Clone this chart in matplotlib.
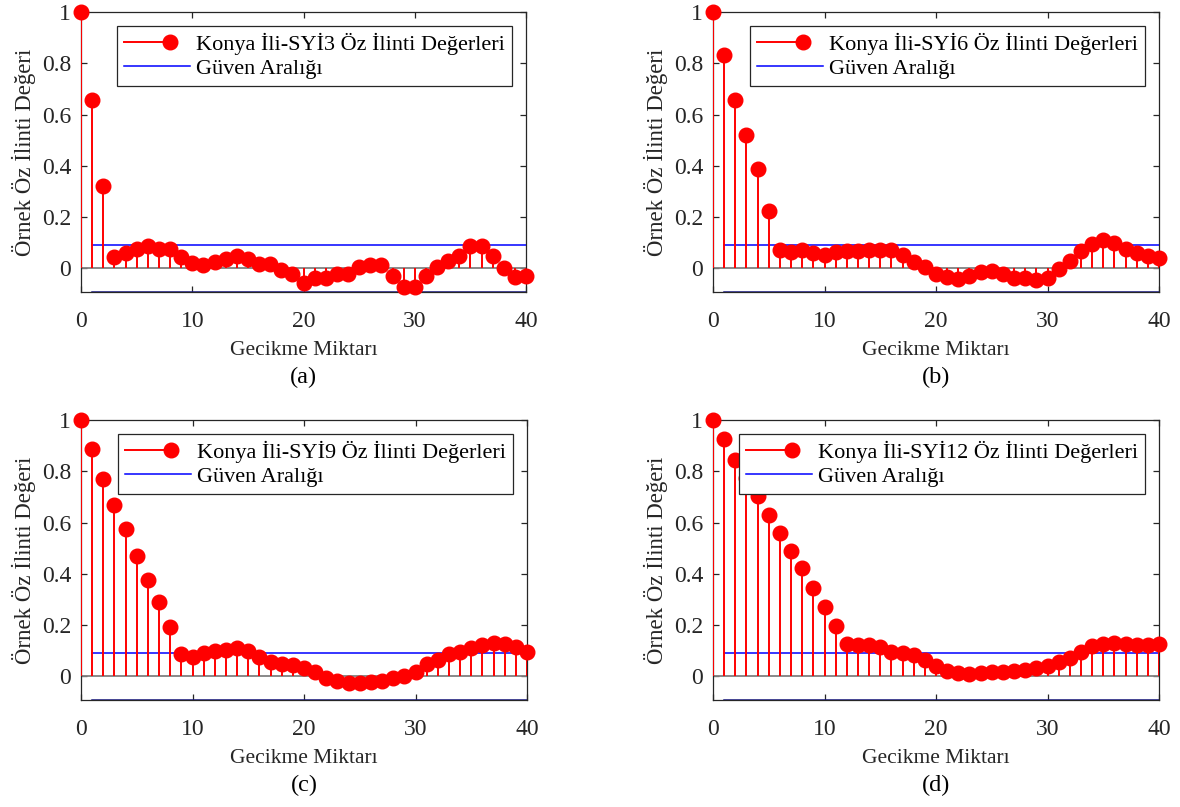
import numpy as np
import matplotlib
matplotlib.use("Agg")
import matplotlib.pyplot as plt
from matplotlib.lines import Line2D
from matplotlib.legend_handler import HandlerBase
from matplotlib.ticker import FuncFormatter

plt.rcParams['font.family'] = ['Liberation Serif', 'DejaVu Serif']

# Autocorrelation values, lags 0..40
lags = list(range(41))

acf_syi3 = [1.000, 0.656, 0.323, 0.044, 0.060, 0.077, 0.086, 0.077, 0.077, 0.044,
            0.023, 0.014, 0.025, 0.036, 0.047, 0.038, 0.017, 0.017, -0.008, -0.022,
            -0.057, -0.038, -0.038, -0.022, -0.022, 0.005, 0.014, 0.014, -0.031, -0.074,
            -0.074, -0.029, 0.004, 0.030, 0.048, 0.088, 0.088, 0.050, 0.001, -0.034,
            -0.031]

acf_syi6 = [1.000, 0.834, 0.658, 0.520, 0.387, 0.224, 0.070, 0.064, 0.070, 0.060,
            0.052, 0.064, 0.069, 0.066, 0.071, 0.073, 0.070, 0.053, 0.026, 0.005,
            -0.021, -0.034, -0.042, -0.029, -0.014, -0.012, -0.021, -0.038, -0.038, -0.047,
            -0.038, -0.003, 0.030, 0.069, 0.096, 0.109, 0.101, 0.075, 0.060, 0.047,
            0.040]

acf_syi9 = [1.000, 0.888, 0.768, 0.669, 0.575, 0.468, 0.377, 0.291, 0.192, 0.087,
            0.075, 0.091, 0.101, 0.104, 0.110, 0.100, 0.075, 0.058, 0.049, 0.045,
            0.032, 0.017, -0.006, -0.019, -0.026, -0.026, -0.022, -0.017, -0.006, 0.000,
            0.019, 0.048, 0.065, 0.087, 0.097, 0.110, 0.123, 0.129, 0.126, 0.113,
            0.097]

acf_syi12 = [1.000, 0.925, 0.844, 0.775, 0.704, 0.630, 0.561, 0.490, 0.422, 0.344,
             0.270, 0.197, 0.126, 0.123, 0.123, 0.113, 0.097, 0.091, 0.082, 0.065,
             0.042, 0.023, 0.013, 0.009, 0.013, 0.016, 0.019, 0.023, 0.026, 0.032,
             0.039, 0.055, 0.071, 0.097, 0.117, 0.126, 0.130, 0.126, 0.123, 0.123,
             0.126]

series_values = [acf_syi3, acf_syi6, acf_syi9, acf_syi12]
series_names = ["SYİ3", "SYİ6", "SYİ9", "SYİ12"]
panel_tags = ["(a)", "(b)", "(c)", "(d)"]

conf_bound = 0.092
x_ticks = [0, 10, 20, 30, 40]
y_ticks = [0, 0.2, 0.4, 0.6, 0.8, 1]

x_label = "Gecikme Miktarı"
y_label = "Örnek Öz İlinti Değeri"
acf_label = "Konya İli-{} Öz İlinti Değerleri"
conf_label = "Güven Aralığı"

STEM_COLOR = "#ff0000"
CONF_COLOR = "#0000ff"
AXIS_COLOR = "#262626"
MARKER_SIZE = 10.5
STEM_LW = 1.4


class StemKeyHandler(HandlerBase):
    """Legend key with the marker sitting near the right end of the stem."""

    def create_artists(self, legend, orig_handle, xdescent, ydescent,
                       width, height, fontsize, trans):
        y = (height - ydescent) / 2
        xm = -xdescent + 0.70 * width
        stem = Line2D([-xdescent, xm], [y, y], color=STEM_COLOR, lw=STEM_LW)
        head = Line2D([xm], [y], marker='o', markersize=MARKER_SIZE,
                      color=STEM_COLOR, linestyle='none')
        stem.set_transform(trans)
        head.set_transform(trans)
        return [stem, head]


fig = plt.figure(figsize=(11.8, 8.07), dpi=100)

W, H = 1180.0, 807.0
ax_boxes = [  # left, top, right, bottom in pixels
    (81, 12, 526, 292),
    (713, 12, 1159, 292),
    (81, 420, 527, 700),
    (713, 420, 1159, 700),
]

for i, (vals, name, tag) in enumerate(zip(series_values, series_names, panel_tags)):
    l, t, r, b = ax_boxes[i]
    ax = fig.add_axes([l / W, 1 - b / H, (r - l) / W, (b - t) / H])

    markerline, stemlines, baseline = ax.stem(lags, vals)
    stemlines.set_color(STEM_COLOR)
    stemlines.set_linewidth(STEM_LW)
    stemlines.set_zorder(3)
    markerline.set_color(STEM_COLOR)
    markerline.set_marker('o')
    markerline.set_markersize(MARKER_SIZE)
    markerline.set_clip_on(False)
    markerline.set_zorder(4)
    baseline.set_color("#808080")
    baseline.set_linewidth(1.3)
    baseline.set_zorder(2)

    # confidence bounds
    ax.plot([lags[1], lags[-1]], [conf_bound, conf_bound], color=CONF_COLOR,
            lw=1.1, zorder=2.6)
    ax.plot([lags[1], lags[-1]], [-conf_bound, -conf_bound], color="#1a1a8c",
            lw=1.1, zorder=2.4, clip_on=False)

    ax.set_xlim(0, 40)
    ax.set_ylim(-conf_bound, 1)
    ax.set_xticks(x_ticks)
    ax.set_yticks(y_ticks)
    ax.yaxis.set_major_formatter(FuncFormatter(lambda v, p: "%g" % v))
    ax.tick_params(direction='in', length=4.5, width=0.9, colors=AXIS_COLOR,
                   top=True, right=True, labelsize=17)
    ax.tick_params(axis='x', pad=13.5)
    ax.tick_params(axis='y', pad=7)
    for sp in ax.spines.values():
        sp.set_color(AXIS_COLOR)
        sp.set_linewidth(0.9)
        sp.set_zorder(2.5)

    ax.set_xlabel(x_label, fontsize=15.5, color="#262626", labelpad=6.5)
    ax.set_ylabel(y_label, fontsize=16.5, color="#262626", labelpad=4)
    ax.text(0.5, -0.305, tag, transform=ax.transAxes, ha='center', va='center',
            fontsize=17.5, color="black")

    h_acf = Line2D([], [], color=STEM_COLOR)
    h_conf = Line2D([], [], color=CONF_COLOR, lw=1.1)
    leg = ax.legend([h_acf, h_conf], [acf_label.format(name), conf_label],
                    handler_map={h_acf: StemKeyHandler()},
                    loc='upper right', fontsize=16, frameon=True, fancybox=False,
                    framealpha=1, edgecolor=AXIS_COLOR, borderaxespad=0.65,
                    borderpad=0.3, labelspacing=0.15, handlelength=3.0,
                    handletextpad=0.25)
    leg.get_frame().set_linewidth(0.9)
    leg.set_zorder(10)

fig.savefig("out.png", dpi=100)
